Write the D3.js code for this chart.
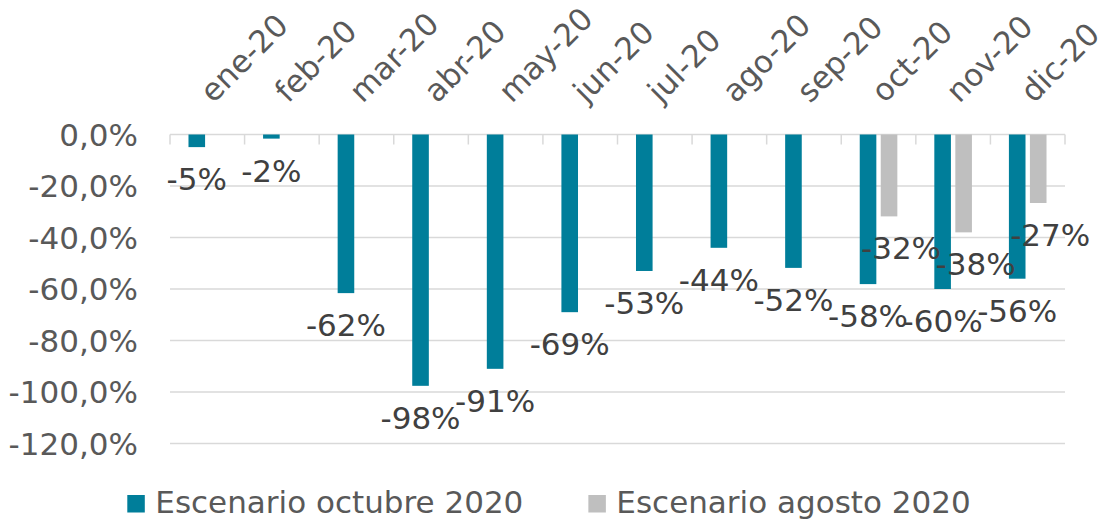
<!DOCTYPE html>
<html><head><meta charset="utf-8">
<script src="https://cdn.jsdelivr.net/npm/d3@7/dist/d3.min.js"></script>
<style>
html,body{margin:0;padding:0;background:#fff;}
svg text{font-family:"DejaVu Sans",sans-serif;}
</style></head>
<body>
<svg id="chart" width="1101" height="519"></svg>
<script>
const categories = ["ene-20","feb-20","mar-20","abr-20","may-20","jun-20","jul-20","ago-20","sep-20","oct-20","nov-20","dic-20"];
const seriesNames = ["Escenario octubre 2020","Escenario agosto 2020"];
const octubreValues = [-4.9,-1.6,-61.6,-97.6,-91.0,-69.0,-53.0,-44.0,-51.8,-58.1,-60.0,-56.0];
const agostoValues = [null,null,null,null,null,null,null,null,null,-31.8,-38.0,-26.6];
const yTicks = [0,-20,-40,-60,-80,-100,-120];
const colors = ["#007E9A","#BFBFBF"];

const svg = d3.select("#chart");
const FS = 31;
const left = 170, right = 1065, top0 = 134.5, bottom = 443.5;

const locale = d3.formatLocale({decimal: ",", thousands: ".", grouping: [3], currency: ["", "€"], minus: "-"});
const tickFmt = v => locale.format(".1f")(v) + "%";
const lblFmt = v => locale.format(".0f")(v) + "%";

const x0 = d3.scaleBand().domain(categories).range([left, right]).paddingInner(0).paddingOuter(0);
const x1 = d3.scaleBand().domain(seriesNames).range([0, x0.bandwidth()]).paddingInner(0.21).paddingOuter(0.88);
const y = d3.scaleLinear().domain([-120, 0]).range([bottom, top0]);

// gridlines
svg.append("g").selectAll("line").data(yTicks).join("line")
  .attr("x1", left).attr("x2", right)
  .attr("y1", d => y(d)).attr("y2", d => y(d))
  .attr("stroke", "#D9D9D9").attr("stroke-width", 1.5);

// category axis ticks (at zero line)
const tickPos = categories.map(c => x0(c)).concat([right]);
svg.append("g").selectAll("line").data(tickPos).join("line")
  .attr("x1", d => d).attr("x2", d => d)
  .attr("y1", y(0)).attr("y2", y(0) + 10)
  .attr("stroke", "#D9D9D9").attr("stroke-width", 1.5);

// y tick labels
svg.append("g").selectAll("text").data(yTicks).join("text")
  .attr("x", 138).attr("y", d => y(d)).attr("dy", "0.36em")
  .attr("text-anchor", "end").attr("font-size", FS).attr("fill", "#595959")
  .text(tickFmt);

// category labels (rotated)
svg.append("g").selectAll("text").data(categories).join("text")
  .attr("transform", d => `translate(${x0(d) + x0.bandwidth()/2 + 6},104) rotate(-45)`)
  .attr("text-anchor", "start").attr("font-size", FS).attr("fill", "#595959")
  .text(d => d);

// bars
const seriesData = [octubreValues, agostoValues];
seriesData.forEach((vals, si) => {
  const data = categories.map((c, i) => ({c, v: vals[i]})).filter(d => d.v !== null);
  svg.append("g").selectAll("rect").data(data).join("rect")
    .attr("x", d => x0(d.c) + x1(seriesNames[si]))
    .attr("width", x1.bandwidth())
    .attr("y", y(0))
    .attr("height", d => y(d.v) - y(0))
    .attr("fill", colors[si]);
});

// data labels
seriesData.forEach((vals, si) => {
  const data = categories.map((c, i) => ({c, v: vals[i]})).filter(d => d.v !== null);
  const dx = si === 1 ? 12 : 0;
  svg.append("g").selectAll("text").data(data).join("text")
    .attr("x", d => x0(d.c) + x1(seriesNames[si]) + x1.bandwidth()/2 + dx)
    .attr("y", d => y(d.v) + 43)
    .attr("text-anchor", "middle").attr("font-size", FS).attr("fill", "#404040")
    .text(d => lblFmt(d.v));
});

// legend
const lg = svg.append("g");
const items = seriesNames.map((n, i) => {
  const g = lg.append("g");
  g.append("rect").attr("x", 0).attr("y", -18).attr("width", 17.5).attr("height", 17.5).attr("fill", colors[i]);
  const t = g.append("text").attr("x", 28).attr("y", 0).attr("font-size", FS).attr("fill", "#595959").text(n);
  return {g, w: 28 + t.node().getComputedTextLength()};
});
const gap = 65;
const total = items.reduce((s, it) => s + it.w, 0) + gap;
let cx = 549 - total / 2;
items.forEach(it => {
  it.g.attr("transform", `translate(${cx},513)`);
  cx += it.w + gap;
});
</script>
</body></html>
